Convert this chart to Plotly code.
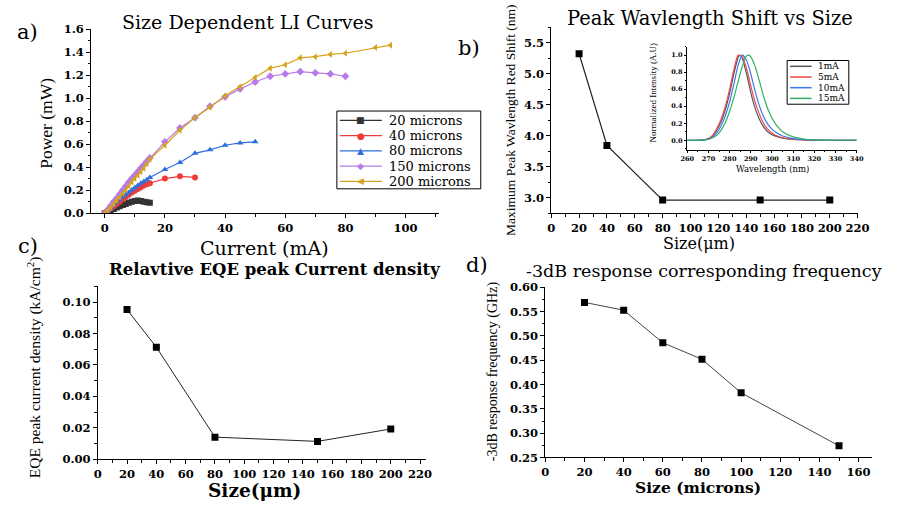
import plotly.graph_objects as go

W, H = 898, 506

# ---------------- data ----------------
# a) LI curves
li_names = ["20 microns", "40 microns", "80 microns", "150 microns", "200 microns"]
cur_20 = [0, 1, 2, 3, 4, 5, 6, 7, 8, 9, 10, 11, 12, 13, 14, 15]
pow_20 = [0, 0.01, 0.02, 0.035, 0.05, 0.06, 0.07, 0.08, 0.09, 0.10, 0.105, 0.11, 0.105, 0.10, 0.095, 0.09]
cur_40 = [0, 1, 2, 3, 4, 5, 6, 7, 8, 9, 10, 11, 12, 13, 14, 15, 20, 25, 30]
pow_40 = [0, 0.02, 0.04, 0.06, 0.08, 0.10, 0.12, 0.14, 0.16, 0.18, 0.195, 0.21, 0.225, 0.24, 0.25, 0.26, 0.30, 0.32, 0.31]
cur_80 = [0, 1, 2, 3, 4, 5, 6, 7, 8, 9, 10, 11, 12, 13, 14, 15, 20, 25, 30, 35, 40, 45, 50]
pow_80 = [0, 0.02, 0.045, 0.07, 0.095, 0.12, 0.14, 0.16, 0.18, 0.20, 0.22, 0.24, 0.26, 0.275, 0.29, 0.31,
          0.38, 0.44, 0.52, 0.55, 0.59, 0.61, 0.62]
cur_150 = [0, 1, 2, 3, 4, 5, 6, 7, 8, 9, 10, 11, 12, 13, 14, 15, 20, 25, 30, 35, 40, 45, 50, 55, 60, 65, 70, 75, 80]
pow_150 = [0, 0.03, 0.065, 0.10, 0.13, 0.165, 0.20, 0.235, 0.27, 0.30, 0.33, 0.36, 0.39, 0.42, 0.45, 0.48,
           0.62, 0.74, 0.83, 0.93, 1.01, 1.08, 1.14, 1.19, 1.21, 1.23, 1.22, 1.21, 1.19]
cur_200 = [0, 1, 2, 3, 4, 5, 6, 7, 8, 9, 10, 11, 12, 13, 14, 15, 20, 25, 30, 35, 40, 45, 50, 55, 60, 65, 70, 75, 80, 90, 95]
pow_200 = [0, 0.025, 0.05, 0.08, 0.11, 0.14, 0.17, 0.20, 0.235, 0.27, 0.30, 0.33, 0.36, 0.39, 0.43, 0.47,
           0.59, 0.72, 0.83, 0.92, 1.02, 1.10, 1.18, 1.26, 1.29, 1.35, 1.36, 1.38, 1.39, 1.44, 1.46]
li_colors = ["#333333", "#f03a3a", "#2f6fdc", "#b77ae8", "#d4a31c"]
li_symbols = ["square", "circle", "triangle-up", "diamond", "triangle-left"]
li_glyphs = ["■", "●", "▲", "◆", "◀"]

# b) peak wavelength shift
size_b = [20, 40, 80, 150, 200]
shift_b = [5.32, 3.84, 2.96, 2.96, 2.96]

# b inset) normalized spectra
spec_names = ["1mA", "5mA", "10mA", "15mA"]
wl_1 = [260, 265, 268, 270, 272, 274, 276, 278, 280, 282, 284, 285, 286, 288, 290, 292, 294, 296, 298, 300, 302, 305, 310, 315, 320, 330, 340]
in_1 = [0, 0, 0.005, 0.02, 0.05, 0.12, 0.22, 0.36, 0.55, 0.78, 0.97, 1.0, 0.96, 0.78, 0.56, 0.38, 0.25, 0.16, 0.10, 0.065, 0.045, 0.025, 0.01, 0.005, 0, 0, 0]
wl_5 = [260, 265, 268, 270, 272, 274, 276, 278, 280, 282, 284, 286, 288, 290, 292, 294, 296, 298, 300, 302, 305, 310, 315, 320, 330, 340]
in_5 = [0, 0, 0.006, 0.02, 0.06, 0.14, 0.25, 0.40, 0.60, 0.83, 1.0, 0.98, 0.84, 0.64, 0.45, 0.31, 0.20, 0.13, 0.085, 0.055, 0.03, 0.012, 0.005, 0, 0, 0]
wl_10 = [260, 265, 268, 270, 272, 274, 276, 278, 280, 282, 284, 286, 288, 290, 292, 294, 296, 298, 300, 302, 305, 310, 315, 320, 330, 340]
in_10 = [0, 0, 0.005, 0.015, 0.04, 0.09, 0.17, 0.29, 0.45, 0.66, 0.88, 1.0, 0.94, 0.78, 0.58, 0.41, 0.28, 0.19, 0.13, 0.09, 0.05, 0.02, 0.008, 0.003, 0, 0]
wl_15 = [260, 265, 268, 270, 272, 274, 276, 278, 280, 282, 284, 286, 288, 289, 290, 292, 294, 296, 298, 300, 302, 305, 310, 315, 320, 330, 340]
in_15 = [0, 0, 0.004, 0.01, 0.03, 0.06, 0.12, 0.21, 0.34, 0.50, 0.69, 0.87, 0.99, 1.0, 0.98, 0.87, 0.70, 0.52, 0.37, 0.26, 0.18, 0.10, 0.04, 0.015, 0.005, 0, 0]
spec_colors = ["#555555", "#f04848", "#3a78f0", "#30b060"]

# c) EQE peak current density
size_c = [20, 40, 80, 150, 200]
eqe_c = [0.0952, 0.0713, 0.014, 0.0113, 0.0192]

# d) -3dB frequency
size_d = [20, 40, 60, 80, 100, 150]
freq_d = [0.569, 0.553, 0.486, 0.452, 0.383, 0.274]

# tick labels
a_xt = [0, 20, 40, 60, 80, 100]
a_xl = ["0", "20", "40", "60", "80", "100"]
a_yt = [0, 0.2, 0.4, 0.6, 0.8, 1.0, 1.2, 1.4, 1.6]
a_yl = ["0.0", "0.2", "0.4", "0.6", "0.8", "1.0", "1.2", "1.4", "1.6"]
b_xt = [0, 20, 40, 60, 80, 100, 120, 140, 160, 180, 200, 220]
b_xl = ["0", "20", "40", "60", "80", "100", "120", "140", "160", "180", "200", "220"]
b_yt = [3.0, 3.5, 4.0, 4.5, 5.0, 5.5]
b_yl = ["3.0", "3.5", "4.0", "4.5", "5.0", "5.5"]
in_xt = [260, 270, 280, 290, 300, 310, 320, 330, 340]
in_xl = ["260", "270", "280", "290", "300", "310", "320", "330", "340"]
in_yt = [0, 0.2, 0.4, 0.6, 0.8, 1.0]
in_yl = ["0.0", "0.2", "0.4", "0.6", "0.8", "1.0"]
c_xt = b_xt
c_xl = b_xl
c_yt = [0, 0.02, 0.04, 0.06, 0.08, 0.10]
c_yl = ["0.00", "0.02", "0.04", "0.06", "0.08", "0.10"]
d_xt = [0, 20, 40, 60, 80, 100, 120, 140, 160]
d_xl = ["0", "20", "40", "60", "80", "100", "120", "140", "160"]
d_yt = [0.25, 0.30, 0.35, 0.40, 0.45, 0.50, 0.55, 0.60]
d_yl = ["0.25", "0.30", "0.35", "0.40", "0.45", "0.50", "0.55", "0.60"]


def px(x, y):
    return x / W, 1 - y / H


def dom_x(a, b):
    return [a / W, b / W]


def dom_y(top, bottom):
    return [1 - bottom / H, 1 - top / H]


tickfont = dict(family="DejaVu Serif", size=11.5, color="black", weight="bold")
smallfont = dict(family="DejaVu Serif", size=6.5, color="black", weight="bold")


def axis(domain, rng, tv, tl_, mdtick, anchor, font=tickfont, tl=4, mtl=2.5):
    return dict(domain=domain, range=rng, tickmode="array", tickvals=tv,
                ticktext=["<b>" + s + "</b>" for s in tl_], showline=True, linecolor="black",
                linewidth=1, ticks="outside", ticklen=tl, tickwidth=1, tickcolor="black",
                showgrid=False, zeroline=False, tickfont=font, anchor=anchor,
                minor=dict(ticks="outside", ticklen=mtl, dtick=mdtick, tick0=0, tickcolor="black", showgrid=False))


fig = go.Figure()

# a
li_x = [cur_20, cur_40, cur_80, cur_150, cur_200]
li_y = [pow_20, pow_40, pow_80, pow_150, pow_200]
for n, xs, ys, c, s in zip(li_names, li_x, li_y, li_colors, li_symbols):
    fig.add_trace(go.Scatter(x=xs, y=ys, name=n, mode="lines+markers", xaxis="x", yaxis="y", showlegend=False,
                             line=dict(color=c, width=1.2), marker=dict(color=c, symbol=s, size=6)))

# b
fig.add_trace(go.Scatter(x=size_b, y=shift_b, mode="lines+markers", xaxis="x2", yaxis="y2", showlegend=False,
                         line=dict(color="#222222", width=1.2), marker=dict(color="black", symbol="square", size=7)))

# inset
for n, xs, ys, c in zip(spec_names, [wl_1, wl_5, wl_10, wl_15], [in_1, in_5, in_10, in_15], spec_colors):
    fig.add_trace(go.Scatter(x=xs, y=ys, name=n, mode="lines", xaxis="x3", yaxis="y3", showlegend=False,
                             line=dict(color=c, width=1.2, shape="spline", smoothing=0.6)))

# c
fig.add_trace(go.Scatter(x=size_c, y=eqe_c, mode="lines+markers", xaxis="x4", yaxis="y4", showlegend=False,
                         line=dict(color="#222222", width=1), marker=dict(color="black", symbol="square", size=7)))

# d
fig.add_trace(go.Scatter(x=size_d, y=freq_d, mode="lines+markers", xaxis="x5", yaxis="y5", showlegend=False,
                         line=dict(color="#444444", width=1), marker=dict(color="black", symbol="square", size=7)))

layout = dict(
    width=W, height=H, margin=dict(l=0, r=0, t=0, b=0), paper_bgcolor="white", plot_bgcolor="white",
    xaxis=axis(dom_x(86, 441), [-4.5, 111], a_xt, a_xl, 10, "y"),
    yaxis=axis(dom_y(22.7, 212), [0, 1.6], a_yt, a_yl, 0.1, "x"),
    xaxis2=axis(dom_x(556, 869), [0, 220], b_xt, b_xl, 10, "y2"),
    yaxis2=axis(dom_y(20.7, 212), [2.75, 5.75], b_yt, b_yl, 0.25, "x2"),
    xaxis3=axis(dom_x(695, 868), [260, 340], in_xt, in_xl, 5, "y3", smallfont, 2.5, 1.5),
    yaxis3=axis(dom_y(40.7, 146.7), [-0.11, 1.1], in_yt, in_yl, 0.1, "x3", smallfont, 2.5, 1.5),
    xaxis4=axis(dom_x(92.7, 428), [0, 224], c_xt, c_xl, 10, "y4"),
    yaxis4=axis(dom_y(287.3, 465), [0, 0.11], c_yt, c_yl, 0.01, "x4"),
    xaxis5=axis(dom_x(550, 884), [0, 167], d_xt, d_xl, 10, "y5"),
    yaxis5=axis(dom_y(288.3, 463.3), [0.25, 0.60], d_yt, d_yl, 0.025, "x5"),
    showlegend=False,
)
fig.update_layout(**layout)

ann = []


def text(t, x, y, size, family="DejaVu Serif", bold=False, angle=0, xanchor="center", color="black"):
    xx, yy = px(x, y)
    ann.append(dict(text=t, x=xx, y=yy, xref="paper", yref="paper", showarrow=False, xanchor=xanchor,
                    yanchor="middle", textangle=angle,
                    font=dict(family=family, size=size, color=color, weight="bold" if bold else "normal")))


# titles
text("Size Dependent LI Curves", 246.5, 15.5, 19)
text("Peak Wavlength Shift vs Size", 718, 11.5, 19.5)
text("Relavtive EQE peak Current density", 273, 270, 16.5, bold=True)
text("-3dB response corresponding frequency", 712, 272, 17.5)
# x titles
text("Current (mA)", 263, 248, 19)
text("Size(μm)", 707, 243, 16)
text("Size(μm)", 253, 497.5, 18.5, bold=True)
text("Size (microns)", 706, 494, 15.5, bold=True)
text("Wavelength (nm)", 782, 167, 8.5)
# y titles
text("Power (mW)", 40, 120, 17.5, "Liberation Serif", angle=-90)
text("Maximum Peak Wavlength Red Shift (nm)", 515, 116, 13.5, "Liberation Serif", angle=-90)
text("EQE peak current density (kA/cm<sup>2</sup>)", 28, 370, 15.5, "Liberation Serif", angle=-90)
text("-3dB response frequency (GHz)", 496, 375, 14, "Liberation Serif", angle=-90)
text("Normalized Intensity (A.U)", 660, 88, 9, "Liberation Serif", angle=-90)
# panel labels
text("a)", 21, 26, 21)
text("b)", 472, 42, 21)
text("c)", 21, 246, 21)
text("d)", 480, 265, 21)

shapes = []


def rect(xa, ya, xb, yb):
    x0, y0 = px(xa, ya)
    x1, y1 = px(xb, yb)
    shapes.append(dict(type="rect", xref="paper", yref="paper", x0=x0, y0=y1, x1=x1, y1=y0,
                       line=dict(color="black", width=1), fillcolor="white", layer="above"))


def hline(xa, xb, yy, color, width):
    a0, b0 = px(xa, yy)
    a1, _ = px(xb, yy)
    shapes.append(dict(type="line", xref="paper", yref="paper", x0=a0, y0=b0, x1=a1, y1=b0,
                       line=dict(color=color, width=width), layer="above"))


# main legend (panel a)
rect(337, 107, 484, 187)
for i, (n, c, g) in enumerate(zip(li_names, li_colors, li_glyphs)):
    yy = 116.5 + i * 15.7
    hline(340, 383, yy, c, 1.2)
    text(g, 361.5, yy, 9, "DejaVu Sans", color=c)
    text(n, 388, yy, 13, xanchor="left")

# inset legend
rect(797, 55, 860, 100)
for i, (n, c) in enumerate(zip(spec_names, spec_colors)):
    yy = 61 + i * 11
    hline(800, 822, yy, c, 1.5)
    text(n, 826, yy, 9, xanchor="left")

fig.update_layout(annotations=ann, shapes=shapes)
fig.write_html("out.html", config={"displayModeBar": False},
               post_script="document.body.style.margin='0px';")
